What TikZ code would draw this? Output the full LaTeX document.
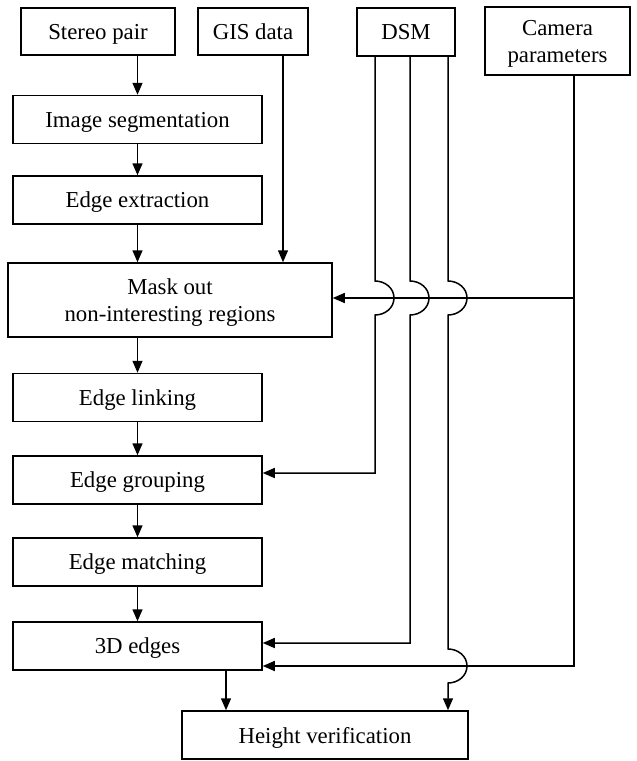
\documentclass[tikz,border=0pt]{standalone}
\usepackage{fontspec}
\setmainfont{Liberation Serif}
\usetikzlibrary{arrows.meta}

\begin{document}
\begin{tikzpicture}[x=0.5pt, y=-0.5pt, line width=0.75pt, >={Triangle[length=6pt,width=5pt]}]
        \tikzstyle{every node}=[draw, align=center, inner sep=0pt, text depth=0pt, font=\fontsize{11.4}{13.5}\selectfont]
        \tikzstyle{col}=[minimum width=124.5pt, minimum height=24pt]

        \useasboundingbox (0,0) rectangle (637,761);

        % inputs
        \node (stereo) [minimum width=77pt, minimum height=23.5pt] at (98,31.5) {Stereo pair};
        \node (gis)    [minimum width=55pt, minimum height=23.5pt] at (253,31.5) {GIS data};
        \node (dsm)    [minimum width=49pt, minimum height=24pt] at (406,32) {DSM};
        \node (cam)    [minimum width=72.5pt, minimum height=34pt] at (557.5,41) {Camera\\parameters};

        % main column
        \node (seg)     [col] at (137.5,119.5) {Image segmentation};
        \node (ext)     [col] at (137.5,200) {Edge extraction};
        \node (mask)    [minimum width=162pt, minimum height=37pt] at (170,300) {Mask out\\non-interesting regions};
        \node (link)    [col] at (137.5,397.5) {Edge linking};
        \node (group)   [col] at (137.5,480) {Edge grouping};
        \node (match)   [col] at (137.5,562) {Edge matching};
        \node (edges3d) [col] at (137.5,646) {3D edges};
        \node (height)  [minimum width=143pt, minimum height=24pt] at (325,735) {Height verification};

        \coordinate (gisx) at (283,0);
        \coordinate (camturn) at (574,666);
        \coordinate (cambranch) at (574,298);
        \coordinate (d1) at (375,473);
        \coordinate (d2) at (410,643);
        \coordinate (d3) at (448,0);
        \coordinate (e3x) at (226,0);

        \draw[->] (stereo.south -| seg.north) -- (seg.north);
        \draw[->] (seg) -- (ext);
        \draw[->] (ext.south) -- (ext.south |- mask.north);
        \draw[->] (mask.south -| link.north) -- (link.north);
        \draw[->] (link) -- (group);
        \draw[->] (group) -- (match);
        \draw[->] (match) -- (edges3d);
        \draw[->] (edges3d.south -| e3x) -- (height.north -| e3x);
        \draw[->] (gis.south -| gisx) -- (mask.north -| gisx);

        % camera parameters
        \draw[->] (cam.south -| camturn) -- (camturn) -- (camturn -| edges3d.east);
        \draw[->] (cambranch) -- (cambranch -| mask.east);

        % DSM, hopping over the camera lines
        \draw[->] (dsm.south -| d1) -- (375,281) to[out=0,in=90] ++(19,17) to[out=-90,in=0] ++(-19,17)
                  -- (d1) -- (d1 -| group.east);
        \draw[->] (dsm.south -| d2) -- (410,281) to[out=0,in=90] ++(19,17) to[out=-90,in=0] ++(-19,17)
                  -- (d2) -- (d2 -| edges3d.east);
        \draw[->] (dsm.south -| d3) -- (448,281) to[out=0,in=90] ++(19,17) to[out=-90,in=0] ++(-19,17)
                  -- (448,649) to[out=0,in=90] ++(19,17) to[out=-90,in=0] ++(-19,17)
                  -- (height.north -| d3);

\end{tikzpicture}
\end{document}
